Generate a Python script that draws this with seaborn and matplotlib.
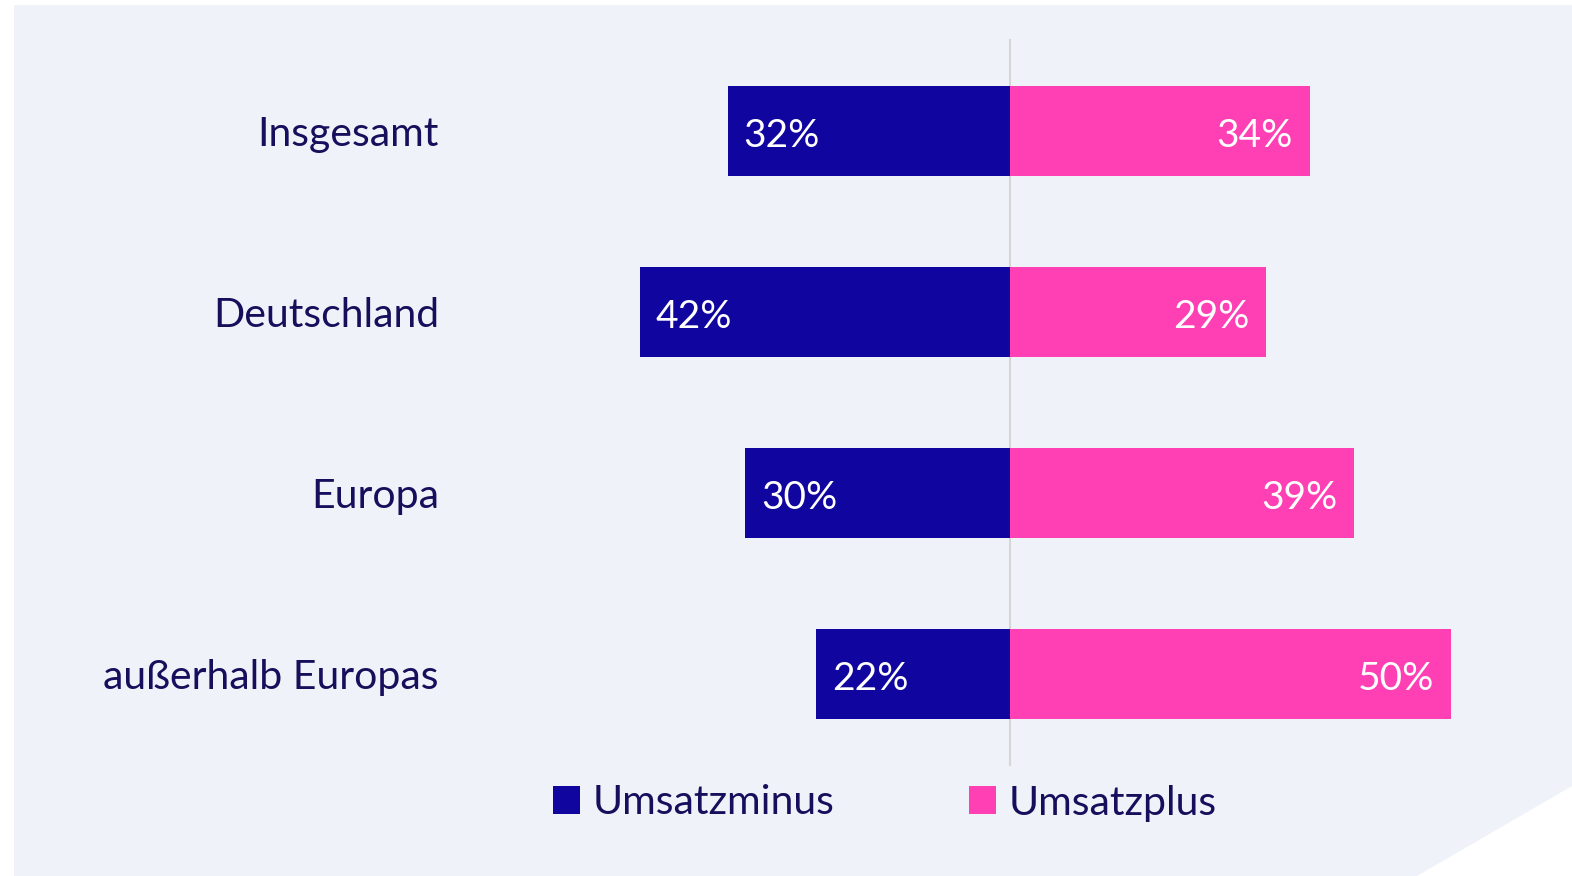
# coding:utf-8
# 绘制各地区营业额变化的对比条形图
# 左侧为营业额减少(Umsatzminus)，右侧为营业额增加(Umsatzplus)
import pandas as pd
import matplotlib.pyplot as plt
import seaborn as sns
from matplotlib.patches import Patch, Polygon

# 百分比数据
df = pd.DataFrame({'Region': ['Insgesamt', 'Deutschland', 'Europa', 'außerhalb Europas'],
                   'Umsatzminus': [32, 42, 30, 22],
                   'Umsatzplus': [34, 29, 39, 50]})
df['minus_neg'] = -df['Umsatzminus']  # 减少的部分画在左侧

navy = '#10069F'
pink = '#FF40B4'
textc = '#170E5C'
plt.rcParams['font.family'] = ['Lato', 'DejaVu Sans']

fig = plt.figure(figsize=(15.72, 8.76), dpi=100)
fig.patch.set_facecolor('white')
# 背景的浅色多边形(右下角斜切)
bg = Polygon([(14 / 1572, 1 - 5 / 876), (1, 1 - 5 / 876), (1, 1 - 786 / 876), (1417 / 1572, 0), (14 / 1572, 0)],
             closed=True, transform=fig.transFigure, facecolor='#EFF2F8', edgecolor='none', zorder=-1)
fig.patches.append(bg)

ax = fig.add_axes([450 / 1572, 0, 1 - 450 / 1572, 1])
ax.set_facecolor('none')
sns.barplot(data=df, y='Region', x='minus_neg', color=navy, saturation=1, width=0.5, orient='h', ax=ax)
sns.barplot(data=df, y='Region', x='Umsatzplus', color=pink, saturation=1, width=0.5, orient='h', ax=ax)
ax.axvline(0, ymin=(876 - 765) / 876, ymax=(876 - 40) / 876, color='#D6D6D6', lw=1.5, zorder=0)

# 坐标范围: 中线在 x=1010 像素处
ax.set_xlim((450 - 1010) / 8.82, (1572 - 1010) / 8.82)
ax.set_ylim((876 - 131) / 181, -131 / 181)

# 在条形内部添加百分比
for i, row in df.iterrows():
    ax.text(-row['Umsatzminus'] + 1.8, i + 0.025, '{}%'.format(row['Umsatzminus']), color='white',
            ha='left', va='center', fontsize=28)
    ax.text(row['Umsatzplus'] - 1.9, i + 0.025, '{}%'.format(row['Umsatzplus']), color='white',
            ha='right', va='center', fontsize=28)

ax.set_xlabel('')
ax.set_ylabel('')
ax.set_xticks([])
ax.tick_params(axis='y', length=0, pad=8)
label_y = ax.get_yticklabels()
plt.setp(label_y, size=29.5, color=textc)
for s in ax.spines.values():
    s.set_visible(False)

handles = [Patch(facecolor=navy, label='Umsatzminus'), Patch(facecolor=pink, label='Umsatzplus')]
leg = fig.legend(handles=handles, loc='center', bbox_to_anchor=(885 / 1572, 1 - 803 / 876), ncol=2,
                 frameon=False, fontsize=29.5, handlelength=0.65, handleheight=0.65, handletextpad=0.3,
                 columnspacing=3.3)
for t in leg.get_texts():
    t.set_color(textc)

plt.savefig('out.png', dpi=100, facecolor=fig.get_facecolor())
